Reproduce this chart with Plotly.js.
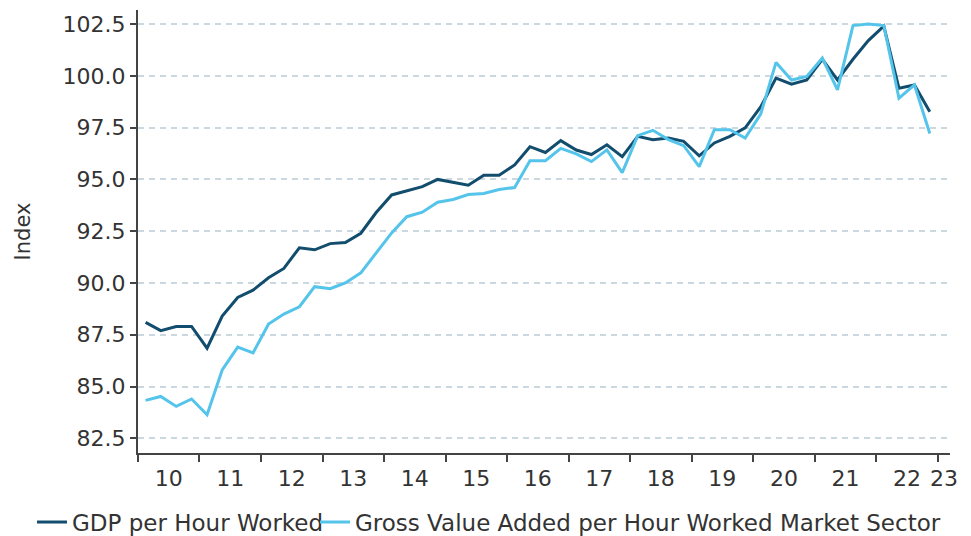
<!DOCTYPE html>
<html>
<head>
<meta charset="utf-8">
<script src="https://cdn.plot.ly/plotly-3.0.1.min.js"></script>
<style>html,body{margin:0;padding:0;background:#fff;}#chart{width:971px;height:536px;}</style>
</head>
<body>
<div id="chart"></div>
<script>
// Quarters (2010 Q1 to 2022 Q4)
const quarters = [
  '2010Q1','2010Q2','2010Q3','2010Q4','2011Q1','2011Q2','2011Q3','2011Q4',
  '2012Q1','2012Q2','2012Q3','2012Q4','2013Q1','2013Q2','2013Q3','2013Q4',
  '2014Q1','2014Q2','2014Q3','2014Q4','2015Q1','2015Q2','2015Q3','2015Q4',
  '2016Q1','2016Q2','2016Q3','2016Q4','2017Q1','2017Q2','2017Q3','2017Q4',
  '2018Q1','2018Q2','2018Q3','2018Q4','2019Q1','2019Q2','2019Q3','2019Q4',
  '2020Q1','2020Q2','2020Q3','2020Q4','2021Q1','2021Q2','2021Q3','2021Q4',
  '2022Q1','2022Q2','2022Q3','2022Q4'
];

const gdpPerHour = [
  88.1, 87.7, 87.9, 87.9, 86.85, 88.4, 89.3, 89.65,
  90.25, 90.7, 91.7, 91.6, 91.9, 91.95, 92.4, 93.4,
  94.25, 94.45, 94.65, 95.0, 94.85, 94.72, 95.2, 95.2,
  95.7, 96.58, 96.3, 96.87, 96.42, 96.2, 96.67, 96.1,
  97.08, 96.92, 97.0, 96.84, 96.14, 96.76, 97.08, 97.49,
  98.5, 99.89, 99.6, 99.8, 100.8, 99.8, 100.8, 101.7,
  102.4, 99.4, 99.56, 98.27
];

const gvaPerHourMarket = [
  84.33, 84.52, 84.04, 84.4, 83.64, 85.8, 86.9, 86.62,
  88.02, 88.5, 88.85, 89.82, 89.72, 90.0, 90.49, 91.46,
  92.42, 93.2, 93.42, 93.9, 94.03, 94.27, 94.32, 94.51,
  94.61, 95.9, 95.9, 96.5, 96.23, 95.86, 96.43, 95.33,
  97.11, 97.37, 96.92, 96.63, 95.62, 97.4, 97.4, 97.0,
  98.15, 100.65, 99.8, 99.97, 100.86, 99.32, 102.43, 102.5,
  102.43, 98.92, 99.56, 97.22
];

const seriesNames = ['GDP per Hour Worked', 'Gross Value Added per Hour Worked Market Sector'];
const yTicks = [82.5, 85.0, 87.5, 90.0, 92.5, 95.0, 97.5, 100.0, 102.5];
const yearLabels = ['10','11','12','13','14','15','16','17','18','19','20','21','22','23'];
const yearLabelPos = ['2010-07-02','2011-07-02','2012-07-02','2013-07-02','2014-07-02','2015-07-02',
  '2016-07-02','2017-07-02','2018-07-02','2019-07-02','2020-07-02','2021-07-02','2022-07-02','2023-02-07'];

// mid-quarter dates
const midMonth = {Q1: '02-15', Q2: '05-16', Q3: '08-16', Q4: '11-15'};
const xDates = quarters.map(q => q.slice(0, 4) + '-' + midMonth[q.slice(4)]);

const FONT = 'DejaVu Sans, Verdana, sans-serif';
const TXT = '#333333';
const FS = 22;
const XRANGE = ['2010-01-01', '2023-03-15'];

const traces = [
  {x: xDates, y: gdpPerHour, name: seriesNames[0], type: 'scatter', mode: 'lines',
   xaxis: 'x', yaxis: 'y', legend: 'legend',
   line: {color: '#124d6d', width: 3}},
  {x: xDates, y: gvaPerHourMarket, name: seriesNames[1], type: 'scatter', mode: 'lines',
   xaxis: 'x2', yaxis: 'y', legend: 'legend2',
   line: {color: '#55c4ea', width: 3}}
];

const legendCommon = {orientation: 'h', xref: 'container', xanchor: 'left',
  yref: 'container', y: 0.026, yanchor: 'middle', itemwidth: 30,
  bgcolor: 'rgba(0,0,0,0)', font: {family: FONT, size: 23, color: TXT}};

const layout = {
  width: 971, height: 536,
  margin: {l: 138, r: 21, t: 10, b: 83},
  paper_bgcolor: '#ffffff', plot_bgcolor: '#ffffff',
  font: {family: FONT, size: FS, color: TXT},
  showlegend: true,
  legend: Object.assign({}, legendCommon, {x: 32 / 971}),
  legend2: Object.assign({}, legendCommon, {x: 315 / 971}),
  xaxis: {
    type: 'date',
    range: XRANGE,
    tick0: '2010-01-01', dtick: 'M12',
    showticklabels: false,
    ticks: 'outside', ticklen: 7, tickwidth: 2, tickcolor: '#444',
    showline: true, linecolor: '#444', linewidth: 2,
    showgrid: false, zeroline: false,
    fixedrange: true
  },
  xaxis2: {
    type: 'date',
    overlaying: 'x', anchor: 'y', side: 'bottom',
    range: XRANGE,
    tickmode: 'array', tickvals: yearLabelPos, ticktext: yearLabels,
    ticks: '', showline: false, showgrid: false, zeroline: false,
    ticklabelstandoff: 10,
    tickfont: {family: FONT, size: FS, color: TXT},
    fixedrange: true
  },
  yaxis: {
    range: [81.79, 103.18],
    tickvals: yTicks,
    ticktext: yTicks.map(v => v.toFixed(1)),
    ticks: 'outside', ticklen: 6, tickwidth: 2, tickcolor: '#444',
    showline: true, linecolor: '#444', linewidth: 2,
    showgrid: true, gridcolor: '#ccd8df', gridwidth: 2, griddash: '6px,5px',
    zeroline: false,
    tickfont: {family: FONT, size: FS, color: TXT},
    title: {text: 'Index', font: {family: FONT, size: 21, color: TXT}, standoff: 26},
    automargin: false,
    fixedrange: true
  }
};

Plotly.newPlot('chart', traces, layout, {displayModeBar: false, staticPlot: true});
</script>
</body>
</html>
